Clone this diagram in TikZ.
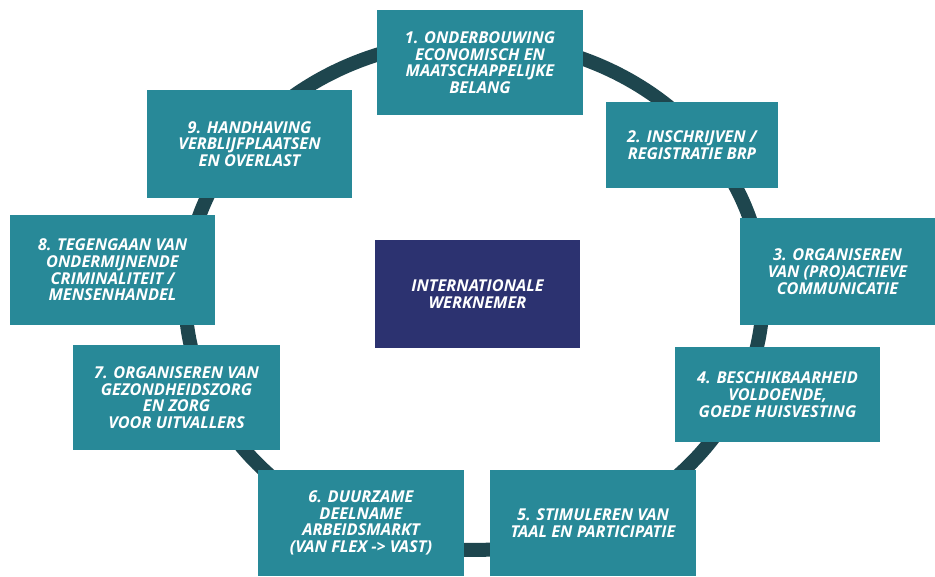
\documentclass[tikz,border=0pt]{standalone}
\usepackage{fontspec}
\setmainfont{Open Sans}
\definecolor{boxteal}{RGB}{40,137,152}
\definecolor{ringdark}{RGB}{30,70,78}
\definecolor{centreblue}{RGB}{44,50,112}

\begin{document}
\begin{tikzpicture}[x=0.02cm,y=-0.02cm,
    blok/.style={fill=boxteal, text=white, align=center, inner sep=0pt,
      font=\fontsize{9.3}{9.5}\selectfont\bfseries\itshape},
    kern/.style={blok, fill=centreblue}]
      \useasboundingbox (0,0) rectangle (935,576);
      \draw [ringdark, line width=0.28cm] (474,295) ellipse [x radius=5.78cm, y radius=5.1cm]; % Ring behind the boxes.

      \node [blok, minimum width=4.12cm, minimum height=2.1cm] (onderbouwing) at (480,62.5)
        {1. ONDERBOUWING\\ECONOMISCH EN\\MAATSCHAPPELIJKE\\BELANG};
      \node [blok, minimum width=3.44cm, minimum height=1.72cm] (inschrijven) at (692,145)
        {2. INSCHRIJVEN /\\REGISTRATIE BRP};
      \node [blok, minimum width=3.9cm, minimum height=2.14cm] (communicatie) at (837.5,271.5)
        {3. ORGANISEREN\\VAN (PRO)ACTIEVE\\COMMUNICATIE};
      \node [blok, minimum width=4.1cm, minimum height=1.9cm] (huisvesting) at (777.5,394.5)
        {4. BESCHIKBAARHEID\\VOLDOENDE,\\GOEDE HUISVESTING};
      \node [blok, minimum width=4.12cm, minimum height=2.12cm] (taal) at (593,523)
        {5. STIMULEREN VAN\\TAAL EN PARTICIPATIE};
      \node [blok, minimum width=4.12cm, minimum height=2.12cm] (arbeidsmarkt) at (361,523)
        {6. DUURZAME\\DEELNAME\\ARBEIDSMARKT\\(VAN FLEX -> VAST)};
      \node [blok, minimum width=4.14cm, minimum height=2.1cm] (zorg) at (176.5,397.5)
        {7. ORGANISEREN VAN\\GEZONDHEIDSZORG\\EN ZORG\\VOOR UITVALLERS};
      \node [blok, minimum width=4.1cm, minimum height=2.2cm] (criminaliteit) at (112.5,270)
        {8. TEGENGAAN VAN\\ONDERMIJNENDE\\CRIMINALITEIT /\\MENSENHANDEL};
      \node [blok, minimum width=4.1cm, minimum height=2.16cm] (handhaving) at (249.5,144)
        {9. HANDHAVING\\VERBLIJFPLAATSEN\\EN OVERLAST};

      \node [kern, minimum width=4.1cm, minimum height=2.16cm] (werknemer) at (477.5,294)
        {INTERNATIONALE\\WERKNEMER};
    \end{tikzpicture}
\end{document}
